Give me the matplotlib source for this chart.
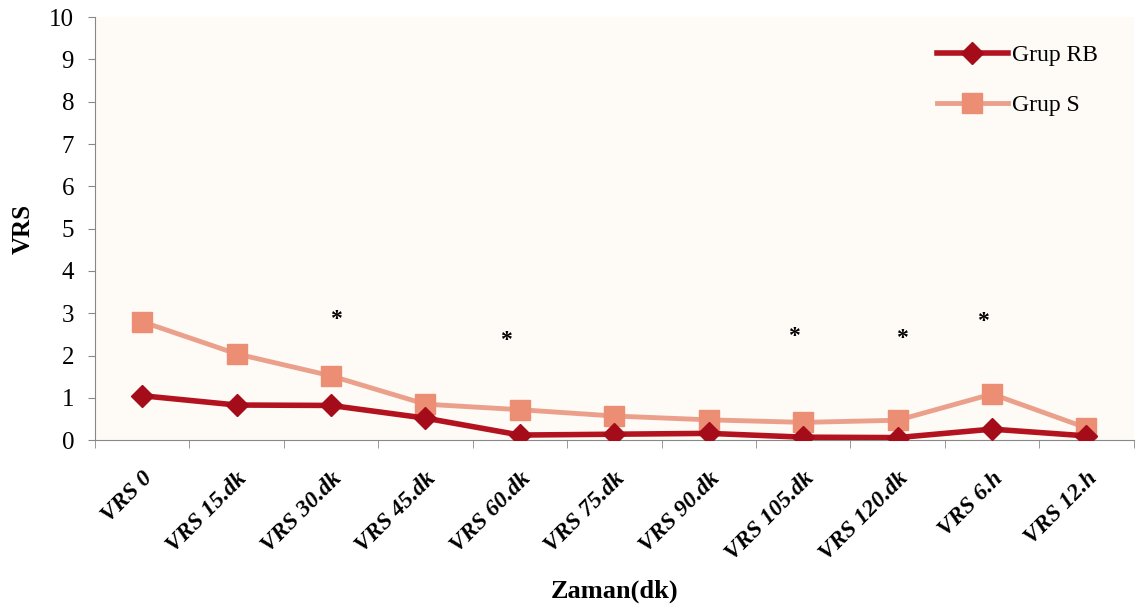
import matplotlib.pyplot as plt
import numpy as np

categories = ['VRS 0', 'VRS 15.dk', 'VRS 30.dk', 'VRS 45.dk', 'VRS 60.dk', 'VRS 75.dk',
              'VRS 90.dk', 'VRS 105.dk', 'VRS 120.dk', 'VRS 6.h', 'VRS 12.h']
grup_rb = [1.05, 0.83, 0.82, 0.52, 0.12, 0.14, 0.16, 0.07, 0.06, 0.26, 0.10]
grup_s = [2.80, 2.04, 1.52, 0.85, 0.72, 0.57, 0.48, 0.42, 0.47, 1.09, 0.29]

# significance marks: (category position, height)
star_x = [2.05, 3.85, 6.9, 8.05, 8.9]
star_y = [2.85, 2.35, 2.45, 2.4, 2.8]

plt.rcParams['font.family'] = ['Liberation Serif', 'DejaVu Serif']

fig = plt.figure(figsize=(11.44, 6.13), dpi=100)
ax = fig.add_axes([0.083, 0.282, 0.908, 0.69])
ax.set_facecolor('#fefaf5')

x = np.arange(len(categories))
ax.plot(x, grup_rb, color='#b3121f', lw=4, marker='D', markersize=11,
        markerfacecolor='#a30c18', markeredgecolor='#a30c18', label='Grup RB', zorder=4)
ax.plot(x, grup_s, color='#eba08c', lw=3.5, marker='s', markersize=14,
        markerfacecolor='#ec8e74', markeredgecolor='#ec8e74', label='Grup S', zorder=3)

for sx, sy in zip(star_x, star_y):
    ax.text(sx, sy, '*', ha='center', va='center', fontsize=17, fontweight='bold')

ax.set_xlim(-0.5, len(categories) - 0.5)
ax.set_ylim(0, 10)
ax.set_yticks(range(0, 11))
ax.tick_params(axis='y', labelsize=18, length=5, color='#888888', pad=10)

# category labels centred, ticks drawn between categories
ax.set_xticks(x)
ax.set_xticklabels(categories, rotation=45, ha='right', rotation_mode='anchor',
                   fontsize=17, fontstyle='italic', fontweight='bold')
ax.set_xticks(np.arange(-0.5, len(categories)), minor=True)
ax.tick_params(axis='x', which='major', length=0, pad=20)
ax.tick_params(axis='x', which='minor', length=6, color='#888888')

for side in ['top', 'right']:
    ax.spines[side].set_visible(False)
for side in ['left', 'bottom']:
    ax.spines[side].set_color('#888888')

ax.set_ylabel('VRS', fontsize=18, fontweight='bold', labelpad=10)
ax.set_xlabel('Zaman(dk)', fontsize=19, fontweight='bold')
ax.xaxis.set_label_coords(0.5, -0.33)

ax.legend(loc='upper left', bbox_to_anchor=(0.79, 0.985), frameon=False, fontsize=17,
          handlelength=3, handletextpad=0.2, labelspacing=1.2)

fig.savefig('out.png', dpi=100)
